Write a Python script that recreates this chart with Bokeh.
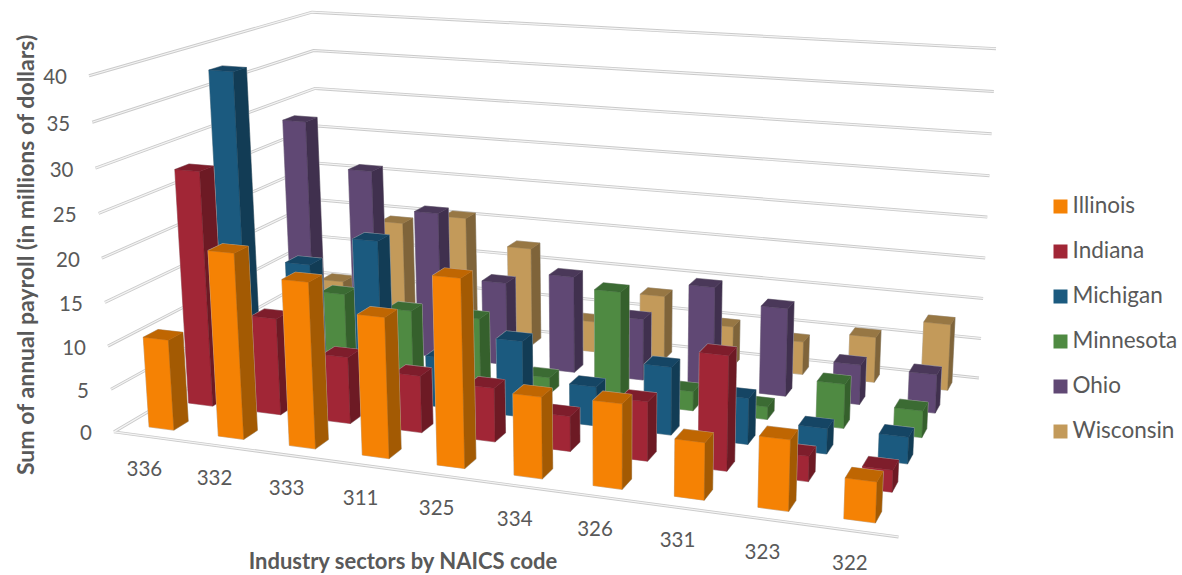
from bokeh.core.properties import value
from bokeh.embed import file_html
from bokeh.models import ColumnDataSource
from bokeh.plotting import figure
from bokeh.resources import INLINE
import numpy as np

# Payroll by NAICS sector and state, in millions of dollars
sectors = ["336", "332", "333", "311", "325", "334", "326", "331", "323", "322"]
states = ["Illinois", "Indiana", "Michigan", "Minnesota", "Ohio", "Wisconsin"]
illinois = [10.5, 21.2, 18.8, 15.8, 20.9, 9.0, 9.3, 6.2, 7.6, 4.3]
indiana = [27.7, 11.4, 7.8, 6.6, 6.2, 4.0, 6.7, 12.8, 2.8, 2.4]
michigan = [37.6, 15.5, 19.1, 6.0, 9.0, 4.6, 7.9, 5.3, 2.9, 3.0]
minnesota = [3.0, 9.6, 8.4, 8.3, 2.0, 13.3, 2.3, 1.5, 5.2, 3.1]
ohio = [28.6, 23.0, 18.4, 10.4, 12.0, 7.6, 12.4, 10.7, 4.8, 4.6]
wisconsin = [5.8, 14.4, 15.8, 12.6, 3.9, 8.1, 5.1, 4.1, 5.6, 8.1]
series = [illinois, indiana, michigan, minnesota, ohio, wisconsin]
y_ticks = [0, 5, 10, 15, 20, 25, 30, 35, 40]

# front, side and top shades for each state's columns
front_colors = ["#F58204", "#A12636", "#1B5A7F", "#4F8A42", "#604874", "#C39A5A"]
side_colors = ["#A35A03", "#6D1A24", "#123C55", "#35602C", "#40304E", "#7F643A"]
top_colors = ["#BF6602", "#7E1D2B", "#154564", "#3B6B33", "#4A3859", "#977744"]

TEXT = "#595959"
FONT = "Lato"

# Camera calibration: box corners (sector, state, payroll) and where they land on the page
world = [(0, 0, 0), (0, 0, 40), (0, 6, 0), (0, 6, 40), (10, 6, 0), (10, 6, 40), (10, 0, 0)]
page = [(112, 432), (90, 75), (325, 307), (310, 12), (978, 378), (996, 48), (898, 536)]

rows = []
rhs = []
for (a, b, c), (u, v) in zip(world, page):
    rows.append([a, b, c, 1, 0, 0, 0, 0, -u * a, -u * b, -u * c])
    rows.append([0, 0, 0, 0, a, b, c, 1, -v * a, -v * b, -v * c])
    rhs += [u, v]
cam = np.append(np.linalg.lstsq(np.array(rows, float), np.array(rhs, float), rcond=None)[0], 1.0).reshape(3, 4)


def project(a, b, c):
    h = cam @ np.array([a, b, c, 1.0])
    return h[0] / h[2], h[1] / h[2]


p = figure(width=1182, height=575, x_range=(0, 1182), y_range=(575, 0),
           output_backend="svg", toolbar_location=None, min_border=0)
p.axis.visible = False
p.grid.visible = False
p.outline_line_color = None
p.background_fill_color = "#FFFFFF"
p.border_fill_color = "#FFFFFF"

# Walls and floor: each rule is a soft double line
wall_x, wall_y = [], []
for z in y_ticks:
    pts = [project(0, 0, z), project(0, 6, z), project(10, 6, z)]
    wall_x.append([q[0] for q in pts])
    wall_y.append([q[1] for q in pts])
floor = [project(10, 0, 0), project(0, 0, 0)]
wall_x.append([q[0] for q in floor])
wall_y.append([q[1] for q in floor])
p.multi_line(wall_x, wall_y, line_color="#C4C4C4", line_width=3, line_alpha=0.9)
p.multi_line(wall_x, wall_y, line_color="#F4F4F4", line_width=1.2)

# Columns, painted from the back row forward and left to right within a row
X0, X1 = 0.32, 0.68
Y0, Y1 = 0.32, 0.68
for row in range(5, -1, -1):
    for col in range(10):
        h = series[row][col]
        a0, a1 = col + X0, col + X1
        b0, b1 = row + Y0, row + Y1
        fl, fr = project(a0, b0, 0), project(a1, b0, 0)
        br = project(a1, b1, 0)
        tfl, tfr = project(a0, b0, h), project(a1, b0, h)
        tbr, tbl = project(a1, b1, h), project(a0, b1, h)
        shape = [fl, fr, br, tbr, tbl, tfl]
        p.patch([q[0] for q in shape], [q[1] for q in shape], fill_color="#D0D0D0",
                line_color="#BDBDBD", line_width=1.2, line_alpha=0.8)
        faces = [([fl, fr, tfr, tfl], front_colors[row]),
                 ([fr, br, tbr, tfr], side_colors[row]),
                 ([tfl, tfr, tbr, tbl], top_colors[row])]
        for poly, colour in faces:
            p.patch([q[0] for q in poly], [q[1] for q in poly], fill_color=colour,
                    line_color=colour, line_width=0.4)

# Value axis labels sit left of the wall's front edge
yl = [project(0, 0, z) for z in y_ticks]
p.text([q[0] - 22 for q in yl], [q[1] + 1 for q in yl], text=[str(z) for z in y_ticks],
       text_align="right", text_baseline="middle", text_color=TEXT,
       text_font=value(FONT), text_font_size="20.5px")

# Sector labels follow the floor's front edge at a fixed offset
xl = [project(i + 0.5, 0, 0) for i in range(10)]
p.text([q[0] - 4 for q in xl], [q[1] + 32 for q in xl], text=sectors,
       text_align="center", text_baseline="middle", text_color=TEXT,
       text_font=value(FONT), text_font_size="20.5px")

# Legend
legend_y = [206 + 45 * i for i in range(6)]
for i, name in enumerate(states):
    source = ColumnDataSource(dict(x=[1060], y=[legend_y[i]]))
    p.rect("x", "y", width=14, height=14, source=source, fill_color=front_colors[i], line_color=None)
p.text([1072] * 6, [y - 2 for y in legend_y], text=states, text_align="left", text_baseline="middle",
       text_color=TEXT, text_font=value(FONT), text_font_size="22.5px")

# Axis titles
p.text([24], [254], text=["Sum of annual payroll (in millions of dollars)"], angle=np.pi / 2,
       text_align="center", text_baseline="middle", text_color=TEXT,
       text_font=value(FONT), text_font_size="23px", text_font_style="bold")
p.text([403], [560], text=["Industry sectors by NAICS code"], text_align="center",
       text_baseline="middle", text_color=TEXT, text_font=value(FONT),
       text_font_size="22px", text_font_style="bold")

open("out.html", "w").write(file_html(p, INLINE))
